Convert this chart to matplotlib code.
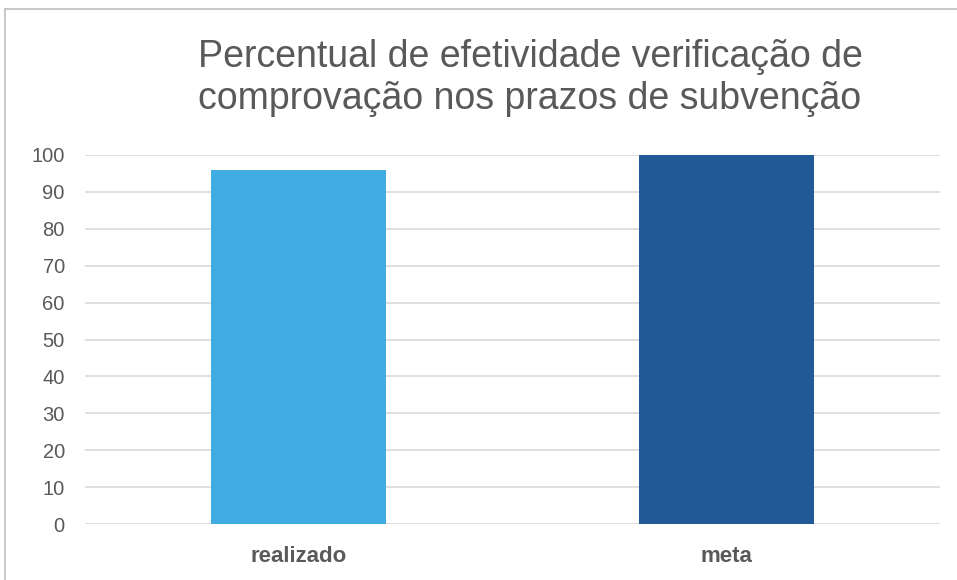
import matplotlib
matplotlib.use("Agg")
import matplotlib.pyplot as plt
from matplotlib.lines import Line2D

categories = ["realizado", "meta"]
values = [96, 100]
colors = ["#41ACE1", "#215A96"]
yticks = [0, 10, 20, 30, 40, 50, 60, 70, 80, 90, 100]
title = "Percentual de efetividade verificação de\ncomprovação nos prazos de subvenção"

plt.rcParams['font.family'] = ['Liberation Sans', 'DejaVu Sans']

fig = plt.figure(figsize=(9.57, 5.8), dpi=100)
W, H = 957, 580
ax = fig.add_axes([85 / W, (H - 524) / H, (940 - 85) / W, (524 - 155) / H])

x = list(range(len(categories)))
ax.bar(x, values, width=0.41, color=colors, zorder=3)
ax.set_xlim(-0.5, len(categories) - 0.5)
ax.set_ylim(0, 100)
ax.set_yticks(yticks)
ax.set_yticklabels([str(v) for v in yticks], fontsize=14.5, color="#595959")
ax.set_xticks(x)
ax.set_xticklabels(categories, fontsize=16, color="#595959", fontweight="bold")
ax.tick_params(axis="y", length=0, pad=14.5)
ax.tick_params(axis="x", length=0, pad=16)
ax.grid(axis="y", color="#D9D9D9", linewidth=1.2, zorder=0)
for s in ax.spines.values():
    s.set_visible(False)

fig.text(530 / W, 1 - 78 / H, title, ha="center", va="center", fontsize=27,
         color="#595959", linespacing=1.22)

fig.add_artist(Line2D([5 / W, 5 / W], [0, 1 - 9 / H], transform=fig.transFigure,
                      color="#BFBFBF", linewidth=1.2))
fig.add_artist(Line2D([5 / W, 1], [1 - 9 / H, 1 - 9 / H], transform=fig.transFigure,
                      color="#BFBFBF", linewidth=1.2))

fig.savefig("out.png", dpi=100)
